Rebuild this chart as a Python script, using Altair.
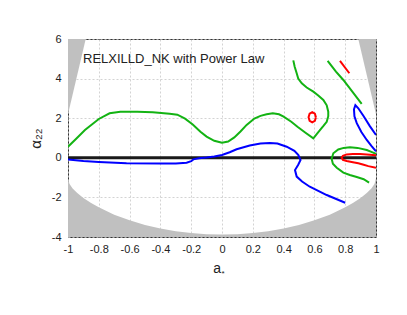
import altair as alt
import pandas as pd

# ---- data ----
g1_a = [-1.0, -0.95, -0.89, -0.80, -0.73, -0.66, -0.55, -0.45, -0.34, -0.29, -0.24, -0.19, -0.14, -0.10, -0.05, 0.0,
        0.04, 0.08, 0.12, 0.16, 0.21, 0.25, 0.29, 0.33, 0.37, 0.40, 0.45, 0.49, 0.54, 0.593,
        0.615, 0.636, 0.66, 0.68, 0.69, 0.69, 0.68, 0.658, 0.625, 0.593, 0.55, 0.518, 0.495, 0.485, 0.472, 0.463]
g1_y = [0.56, 0.94, 1.40, 1.96, 2.25, 2.33, 2.33, 2.30, 2.22, 2.18, 1.98, 1.68, 1.32, 1.07, 0.86, 0.76,
        0.82, 1.03, 1.33, 1.66, 1.98, 2.12, 2.20, 2.25, 2.20, 2.08, 1.82, 1.57, 1.28, 0.98,
        1.20, 1.40, 1.62, 1.82, 2.10, 2.33, 2.65, 2.92, 3.15, 3.34, 3.55, 3.76, 4.00, 4.27, 4.60, 4.92]

g2_a = [0.686, 0.74, 0.788, 0.85, 0.907]
g2_y = [4.90, 4.35, 3.93, 3.30, 2.72]

g3_a = [1.0, 0.97, 0.94, 0.88, 0.831, 0.79, 0.755, 0.723, 0.712, 0.72, 0.745, 0.788, 0.83, 0.875, 0.92, 0.955]
g3_y = [0.20, 0.30, 0.39, 0.50, 0.53, 0.50, 0.42, 0.23, -0.05, -0.30, -0.50, -0.75, -0.87, -0.97, -1.08, -1.25]

r1_a = [0.610, 0.603, 0.586, 0.569, 0.562, 0.569, 0.586, 0.603, 0.610]
r1_y = [2.05, 2.23, 2.31, 2.23, 2.05, 1.87, 1.79, 1.87, 2.05]

r2_a = [0.766, 0.827]
r2_y = [4.90, 4.27]

r3_a = [1.0, 0.94, 0.896, 0.85, 0.81, 0.785, 0.777, 0.785, 0.81, 0.85, 0.885, 0.92, 0.95, 1.0]
r3_y = [0.13, 0.17, 0.19, 0.19, 0.17, 0.10, 0.0, -0.10, -0.16, -0.22, -0.28, -0.35, -0.42, -0.50]

b1_a = [-1.0, -0.9, -0.8, -0.62, -0.4, -0.3, -0.23, -0.2, -0.186, -0.15, -0.1, -0.05, 0.0, 0.05, 0.095, 0.18,
        0.25, 0.31, 0.36, 0.42, 0.47, 0.496, 0.51, 0.495, 0.474, 0.485, 0.52, 0.57, 0.68, 0.8]
b1_y = [-0.08, -0.16, -0.21, -0.27, -0.29, -0.29, -0.25, -0.17, -0.08, -0.02, 0.02, 0.07, 0.14, 0.28, 0.43, 0.62,
        0.72, 0.75, 0.72, 0.56, 0.35, 0.14, -0.11, -0.35, -0.62, -0.95, -1.20, -1.46, -1.88, -2.27]

b2_a = [1.0, 0.96, 0.92, 0.885, 0.866, 0.857, 0.86, 0.875, 0.905, 0.94, 0.97, 1.0]
b2_y = [1.15, 1.60, 2.10, 2.50, 2.66, 2.45, 2.10, 1.75, 1.30, 0.90, 0.60, 0.33]

k_a = [-1.0, 1.0]
k_y = [0.0, 0.0]

# excluded (gray) regions
low_a = [-1.0, -0.99, -0.97, -0.94, -0.9, -0.85, -0.8, -0.7, -0.6, -0.5, -0.4, -0.3, -0.2, -0.1, 0.0,
         0.1, 0.2, 0.3, 0.4, 0.5, 0.6, 0.7, 0.8, 0.85, 0.9, 0.94, 0.97, 0.99, 1.0]
low_y = [-1.05, -1.32, -1.55, -1.78, -2.03, -2.28, -2.50, -2.87, -3.16, -3.39, -3.57, -3.71, -3.80, -3.86, -3.88,
         -3.86, -3.80, -3.71, -3.57, -3.39, -3.16, -2.87, -2.50, -2.28, -2.03, -1.78, -1.55, -1.32, -1.05]
upl_a = [-1.0, -0.885]
upl_y = [2.2, 6.0]
upr_a = [0.885, 1.0]
upr_y = [6.0, 2.2]

x_ticks = [-1, -0.8, -0.6, -0.4, -0.2, 0, 0.2, 0.4, 0.6, 0.8, 1]
y_ticks = [-4, -2, 0, 2, 4, 6]

curves = [
    ("g1", g1_a, g1_y), ("g2", g2_a, g2_y), ("g3", g3_a, g3_y),
    ("r1", r1_a, r1_y), ("r2", r2_a, r2_y), ("r3", r3_a, r3_y),
    ("b1", b1_a, b1_y), ("b2", b2_a, b2_y),
]
colors = {"g": "#13b313", "r": "#ff0000", "b": "#0000ff"}

rows = []
for name, xs, ys in curves:
    for i, (xv, yv) in enumerate(zip(xs, ys)):
        rows.append({"a": xv, "y": yv, "curve": name, "grp": name[0], "i": i})
df = pd.DataFrame(rows)

xscale = alt.Scale(domain=[-1, 1], nice=False, zero=False)
yscale = alt.Scale(domain=[-4, 6], nice=False, zero=False)

common = dict(grid=True, gridDash=[2, 2], gridColor="#c8c8c8", gridWidth=0.8, ticks=False, domain=False,
              labelOverlap=False, labelFlush=False, labelFontSize=11,
              labelFont="Liberation Sans", titleFont="Liberation Sans", labelColor="#222",
              titleColor="#222", titleFontWeight="normal")
xaxis = alt.Axis(values=x_ticks, labelExpr="'' + datum.value", title=None,
                 labelPadding=6, **common)
yaxis = alt.Axis(values=y_ticks, labelExpr="'' + datum.value", title="α₂₂",
                 labelPadding=7, titlePadding=8, titleFontSize=15, **common)

X = alt.X("a:Q", scale=xscale, axis=xaxis)
Y = alt.Y("y:Q", scale=yscale, axis=yaxis)

gray = "#c0c0c0"
low_df = pd.DataFrame({"a": low_a, "y": low_y, "y2": [-4] * len(low_a)})
upl_df = pd.DataFrame({"a": upl_a, "y": upl_y, "y2": [6] * len(upl_a)})
upr_df = pd.DataFrame({"a": upr_a, "y": upr_y, "y2": [6] * len(upr_a)})


def area(d):
    return alt.Chart(d).mark_area(color=gray, clip=True, opacity=1).encode(x=X, y=Y, y2="y2:Q")


black = alt.Chart(pd.DataFrame({"a": k_a, "y": k_y})).mark_line(
    color="#1a1a1a", strokeWidth=3, clip=True).encode(x=X, y=Y)

lines = alt.Chart(df).mark_line(strokeWidth=2, clip=True).encode(
    x=X, y=Y,
    detail="curve:N",
    order="i:Q",
    color=alt.Color("grp:N", scale=alt.Scale(domain=list(colors.keys()), range=list(colors.values())), legend=None),
)

label = alt.Chart(pd.DataFrame({"t": ["RELXILLD_NK with Power Law"]})).mark_text(
    align="left", baseline="middle", fontSize=13, font="Liberation Sans", color="#222"
).encode(x=alt.value(15), y=alt.value(20), text="t:N")

xt_a = alt.Chart(pd.DataFrame({"t": ["a"]})).mark_text(
    align="right", baseline="alphabetic", fontSize=14, font="Liberation Sans", color="#222"
).encode(x=alt.value(153), y=alt.value(234), text="t:N")
xt_s = alt.Chart(pd.DataFrame({"t": ["*"]})).mark_text(
    align="left", baseline="alphabetic", fontSize=8, font="Liberation Sans", color="#222"
).encode(x=alt.value(153.5), y=alt.value(237), text="t:N")

chart = alt.layer(area(low_df), area(upl_df), area(upr_df), black, lines, label, xt_a, xt_s).properties(
    width=308, height=198,
    autosize=alt.AutoSizeParams(type="none"),
    padding={"left": 60, "top": 31, "right": 23, "bottom": 70},
).configure_view(stroke="#333", strokeWidth=1)

chart.save("out.html", embed_options={"renderer": "svg", "actions": False})
